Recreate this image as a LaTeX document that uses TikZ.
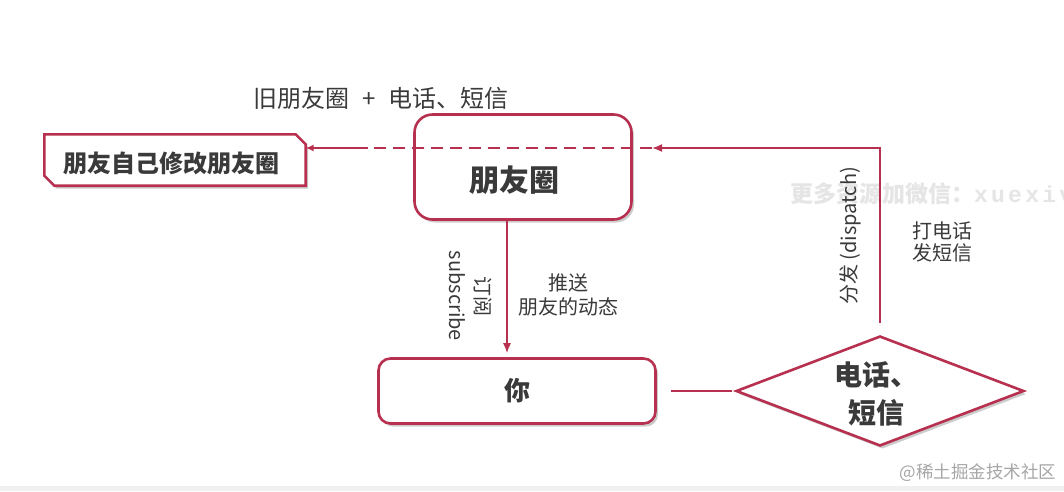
\documentclass[tikz,border=0pt]{standalone}
\usepackage{fontspec}
\setmainfont{Noto Sans CJK SC}
\newfontfamily\wmmono[LetterSpace=14]{Liberation Mono}
\usetikzlibrary{arrows.meta,shapes.geometric,shadows}
\definecolor{crim}{HTML}{B8304F}
\definecolor{txt}{HTML}{3A3A3A}
\begin{document}
\begin{tikzpicture}[x=1pt,y=-1pt,
  box/.style={draw=crim, line width=2.6pt, fill=white,
    drop shadow={shadow xshift=2.5pt, shadow yshift=-3pt, opacity=0.4, fill=gray}},
  link/.style={draw=crim, line width=1.6pt},
  tip/.style={-{Latex[length=10pt,width=8pt]}},
  lbl/.style={text=txt, font=\fontsize{20}{24}\selectfont, inner sep=0pt, align=center},
  big/.style={text=txt, font=\bfseries\fontsize{30}{34}\selectfont, inner sep=0pt, align=center}
]
\useasboundingbox (0,0) rectangle (1064,491);
\fill[white] (0,0) rectangle (1064,491);
\fill[gray!12] (0,486) rectangle (1064,491);

% faint watermarks
\node[anchor=west, text=gray!20, font=\bfseries\fontsize{23}{26}\selectfont, inner sep=0pt] (wm) at (790,194) {更多资源加微信：{\wmmono xuexiv}};
\node[text=gray!70, font=\fontsize{17.5}{20}\selectfont, inner sep=0pt] (wm2) at (978,473) {@稀土掘金技术社区};

% top label
\node[lbl, font=\fontsize{24}{28}\selectfont] (old) at (381,98) {旧朋友圈\hspace{0.55em}+\hspace{0.55em}电话、短信};

% left chamfered box
\node[minimum width=261pt, minimum height=51pt, inner sep=0pt] (fix) at (175,160) {};
\draw[box] (fix.north west) -- ([xshift=-10pt]fix.north east) -- ([yshift=-10pt]fix.north east)
  -- (fix.south east) -- ([xshift=10pt]fix.south west) -- ([yshift=10pt]fix.south west) -- cycle;
\node[text=txt, font=\bfseries\fontsize{24}{28}\selectfont, inner sep=0pt] (fixt) at (171,163) {朋友自己修改朋友圈};

% main boxes
\node[box, rounded corners=18pt, minimum width=217pt, minimum height=105pt] (pyq) at (523,167) {};
\node[big] (pyqt) at (514,180) {朋友圈};

\node[box, rounded corners=12pt, minimum width=277pt, minimum height=65pt, text=txt,
  font=\bfseries\fontsize{26}{30}\selectfont] (you) at (517,391) {你};

\node[box, diamond, inner sep=0pt, aspect=2.6, minimum width=288pt, minimum height=110pt] (dia) at (880,391) {};
\node[big, font=\bfseries\fontsize{28}{38}\selectfont] (diat) at (876,394) {电话、\\短信};

% connectors
\coordinate (turn) at (880,148);
\coordinate (arr) at (652,148);
\coordinate (d1) at (368,148);
\draw[link, tip] ([yshift=12pt]dia.north) -- (turn) -- (arr);
\draw[link, dash pattern=on 12pt off 7pt] (arr) -- (d1);
\draw[link, -{Latex[length=8pt,width=7pt]}] (d1) -- (fix.east |- d1);

\draw[link, tip, shorten >=4pt] ([xshift=-16pt]pyq.south) -- ([xshift=-10pt]you.north);
\draw[link] ([xshift=14pt]you.east) -- ([xshift=-3pt]dia.west);

% labels
\node[lbl, rotate=-90] (sub) at (457,296) {subscribe};
\node[lbl, rotate=-90] (dy) at (483,296) {订阅};
\node[lbl] (push) at (568,295) {推送\\朋友的动态};
\node[lbl, rotate=90] (disp) at (850,236) {分发 (dispatch)};
\node[lbl, font=\fontsize{20}{22}\selectfont] (call) at (942,242) {打电话\\发短信};
\end{tikzpicture}
\end{document}
